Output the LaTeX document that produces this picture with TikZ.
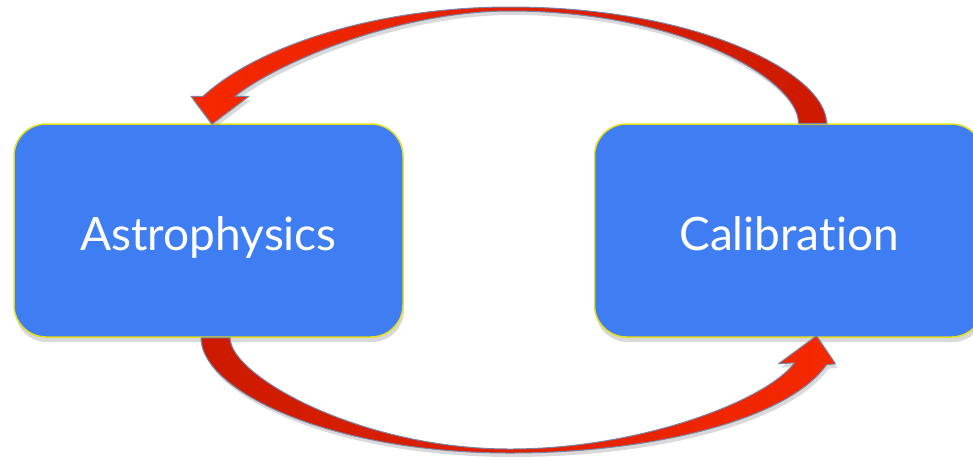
\documentclass[tikz,border=0pt]{standalone}
\usepackage{fontspec}
\setmainfont{Lato}[Ligatures=NoCommon]
\usetikzlibrary{positioning, calc, shadows}
\definecolor{boxblue}{RGB}{63,126,242}
\definecolor{boxrim}{RGB}{228,222,30}
\definecolor{arrowdark}{RGB}{204,26,0}
\definecolor{arrowlight}{RGB}{246,40,0}
\definecolor{arrowrim}{RGB}{120,132,168}

\begin{document}
\begin{tikzpicture}[
    x=1pt, y=-1pt,
    node distance=190pt,
    block/.style={draw=boxrim, line width=1.5pt, fill=boxblue, rounded corners=32pt, minimum width=389pt, minimum height=213pt, text=white, font=\fontsize{46}{54}\selectfont, text height=40pt, text depth=1pt, drop shadow={shadow xshift=1pt, shadow yshift=-5pt, opacity=0.3}},
    ribbon/.style={draw=arrowrim, line width=1pt, line join=round, drop shadow={shadow xshift=2pt, shadow yshift=-4pt, opacity=0.3}},
]
\useasboundingbox (0,0) rectangle (973,459);

% Blocks
\node[block] (astro) at (208.5,230.5) {Astrophysics};
\node[block, right=of astro] (calib) {Calibration};

% Ends of the ribbons
\coordinate (topTailR) at ($(calib.north)+(37.5,0)$);
\coordinate (topTailL) at ($(calib.north)+(9.5,0)$);
\coordinate (topTip) at ($(astro.north)+(3.5,1)$);
\coordinate (topPeakO) at (510,7);
\coordinate (topPeakI) at (510,11);
\coordinate (botTailL) at ($(astro.south)+(-7.5,0)$);
\coordinate (botTailR) at ($(astro.south)+(21.5,0)$);
\coordinate (botTip) at ($(calib.south)+(27.5,-2)$);
\coordinate (botPeakO) at (510,453);
\coordinate (botPeakI) at (510,449);

% Calibration -> Astrophysics
\path[ribbon, left color=arrowlight, right color=arrowdark]
  (topTailR) .. controls +(0,-49) and +(190,0) .. (topPeakO)
  .. controls +(-130,0) and +(57,-52) .. ($(topTip)+(-9,-28)$)
  -- ($(topTip)+(-21,-28)$) -- (topTip) -- ($(topTip)+(37,-28)$) -- ($(topTip)+(23,-28)$)
  .. controls +(45,-35) and +(-110,0) .. (topPeakI)
  .. controls +(170,0) and +(0,-44) .. (topTailL) -- cycle;

% Astrophysics -> Calibration
\path[ribbon, left color=arrowdark, right color=arrowlight]
  (botTailL) .. controls +(0,53) and +(-180,0) .. (botPeakO)
  .. controls +(140,0) and +(-40,56) .. ($(botTip)+(10,29)$)
  -- ($(botTip)+(19,28)$) -- (botTip) -- ($(botTip)+(-38,28)$) -- ($(botTip)+(-22,27)$)
  .. controls +(-28,38) and +(130,0) .. (botPeakI)
  .. controls +(-150,0) and +(0,38) .. (botTailR) -- cycle;

\end{tikzpicture}
\end{document}
